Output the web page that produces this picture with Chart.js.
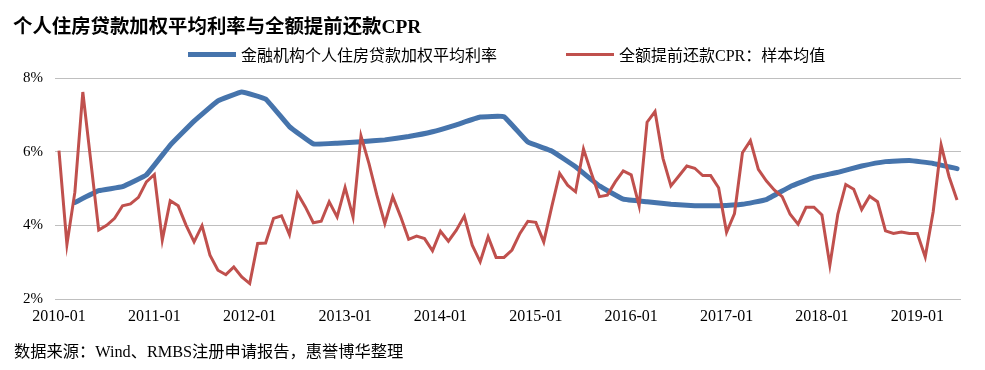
<!DOCTYPE html>
<html>
<head>
<meta charset="utf-8">
<script src="https://cdn.jsdelivr.net/npm/chart.js@4.4.1/dist/chart.umd.min.js"></script>
<style>
  html, body { margin: 0; padding: 0; background: #fff; }
  body { width: 985px; height: 370px; position: relative; overflow: hidden;
         font-family: "Liberation Serif", "Noto Sans CJK SC", serif; color: #000; }
  #c { position: absolute; left: 0; top: 0; }
  .title { position: absolute; left: 13px; top: 10px; font-size: 19.4px; font-weight: bold; white-space: nowrap; }
  .leg { position: absolute; top: 42px; font-size: 16px; white-space: nowrap; display: flex; align-items: center; }
  .leg .ln { display: inline-block; width: 48px; margin-right: 5px; }
  .foot { position: absolute; left: 14px; top: 338px; font-size: 16.25px; white-space: nowrap; }
</style>
</head>
<body>
<canvas id="c" width="985" height="370"></canvas>
<div class="title">个人住房贷款加权平均利率与全额提前还款CPR</div>
<div class="leg" style="left:188px"><span class="ln" style="height:5px;background:#4674AC"></span>金融机构个人住房贷款加权平均利率</div>
<div class="leg" style="left:566px"><span class="ln" style="height:3px;background:#C0504D"></span>全额提前还款CPR：样本均值</div>
<div class="foot">数据来源：Wind、RMBS注册申请报告，惠誉博华整理</div>
<script>
// Categories: months 2010-01 .. 2019-06
const years = [2010, 2011, 2012, 2013, 2014, 2015, 2016, 2017, 2018, 2019];
const monthsOfYear = ['01','02','03','04','05','06','07','08','09','10','11','12'];
const lastMonth = '2019-06';

// Quarter-end months for the loan-rate series
const rateQuarters = ['2010-03','2010-06','2010-09','2010-12','2011-03','2011-06','2011-09','2011-12',
  '2012-03','2012-06','2012-09','2012-12','2013-03','2013-06','2013-09','2013-12',
  '2014-03','2014-06','2014-09','2014-12','2015-03','2015-06','2015-09','2015-12',
  '2016-03','2016-06','2016-09','2016-12','2017-03','2017-06','2017-09','2017-12',
  '2018-03','2018-06','2018-09','2018-12','2019-03','2019-06'];
// 金融机构个人住房贷款加权平均利率 (%)
const rateValues = [4.62, 4.94, 5.05, 5.37, 6.18, 6.83, 7.38, 7.62,
  7.43, 6.68, 6.21, 6.23, 6.27, 6.32, 6.41, 6.54,
  6.73, 6.94, 6.95, 6.26, 6.02, 5.59, 5.07, 4.71,
  4.64, 4.57, 4.53, 4.53, 4.57, 4.70, 5.05, 5.30,
  5.44, 5.61, 5.73, 5.76, 5.68, 5.54];

// 全额提前还款CPR：样本均值 (%), monthly 2010-01 .. 2019-06
const cprValues = [
  6.03, 3.48, 4.90, 7.62, 5.75, 3.87, 4.00, 4.19, 4.53, 4.58, 4.76, 5.18,
  5.38, 3.60, 4.67, 4.53, 4.00, 3.55, 3.99, 3.19, 2.78, 2.66, 2.87, 2.60,
  2.42, 3.51, 3.52, 4.19, 4.26, 3.75, 4.87, 4.50, 4.07, 4.11, 4.64, 4.23,
  5.03, 4.23, 6.43, 5.68, 4.82, 4.05, 4.78, 4.23, 3.62, 3.71, 3.64, 3.31,
  3.84, 3.57, 3.87, 4.25, 3.46, 3.01, 3.69, 3.13, 3.13, 3.33, 3.78, 4.11,
  4.08, 3.55, 4.50, 5.41, 5.09, 4.91, 6.07, 5.41, 4.78, 4.82, 5.18, 5.48,
  5.37, 4.53, 6.80, 7.09, 5.82, 5.07, 5.34, 5.61, 5.55, 5.35, 5.35, 5.02,
  3.81, 4.32, 5.97, 6.30, 5.52, 5.21, 4.96, 4.78, 4.30, 4.03, 4.49, 4.49,
  4.28, 2.92, 4.30, 5.11, 4.98, 4.43, 4.79, 4.64, 3.85, 3.78, 3.82, 3.78,
  3.78, 3.14, 4.37, 6.18, 5.32, 4.69];

const yTicks = [2, 4, 6, 8];

// Build category list
const labels = [];
for (const y of years) {
  for (const m of monthsOfYear) {
    const s = y + '-' + m;
    labels.push(s);
    if (s === lastMonth) break;
  }
}
const rateSeries = labels.map(l => {
  const k = rateQuarters.indexOf(l);
  return k >= 0 ? rateValues[k] : null;
});

new Chart(document.getElementById('c'), {
  type: 'line',
  data: {
    labels: labels,
    datasets: [
      {
        label: '金融机构个人住房贷款加权平均利率',
        data: rateSeries,
        borderColor: '#4674AC',
        backgroundColor: '#4674AC',
        borderWidth: 5,
        pointRadius: 0,
        spanGaps: true,
        tension: 0.08,
        borderJoinStyle: 'round',
        borderCapStyle: 'round',
        order: 2
      },
      {
        label: '全额提前还款CPR：样本均值',
        data: cprValues,
        borderColor: '#C0504D',
        backgroundColor: '#C0504D',
        borderWidth: 3,
        pointRadius: 0,
        tension: 0,
        borderJoinStyle: 'miter',
        order: 1
      }
    ]
  },
  options: {
    responsive: false,
    animation: false,
    events: [],
    layout: { padding: { left: 0, right: 24, top: 78, bottom: 41 } },
    plugins: { legend: { display: false }, tooltip: { enabled: false }, title: { display: false } },
    scales: {
      x: {
        type: 'category',
        offset: true,
        grid: { display: false, drawTicks: false },
        border: { display: false },
        afterFit: s => { s.height = 30; },
        ticks: {
          autoSkip: false,
          maxRotation: 0,
          minRotation: 0,
          padding: 8,
          color: '#000',
          font: { family: '"Liberation Serif", serif', size: 16 },
          callback: function (v, i) { return labels[i].endsWith('-01') ? labels[i] : null; }
        }
      },
      y: {
        min: 2,
        max: 8,
        afterFit: s => { s.width = 55; },
        afterBuildTicks: s => { s.ticks = yTicks.map(v => ({ value: v })); },
        grid: { color: '#BFBFBF', lineWidth: 1, drawTicks: false },
        border: { display: false },
        ticks: {
          padding: 12,
          color: '#000',
          font: { family: '"Liberation Serif", serif', size: 15 },
          callback: v => v + '%'
        }
      }
    }
  }
});
</script>
</body>
</html>
